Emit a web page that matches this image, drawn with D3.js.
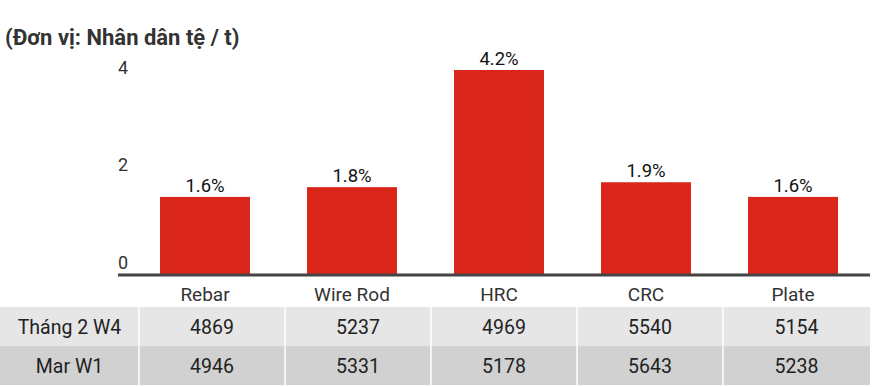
<!DOCTYPE html>
<html>
<head>
<meta charset="utf-8">
<script src="https://cdn.jsdelivr.net/npm/d3@7"></script>
<style>
  body { margin: 0; background: #fff; }
  svg { display: block; font-family: Roboto, "Noto Sans", sans-serif; }
</style>
</head>
<body>
<div id="chart"></div>
<script>
// ---- data ----
const categories = ["Rebar", "Wire Rod", "HRC", "CRC", "Plate"];
const changePct = [1.6, 1.8, 4.2, 1.9, 1.6];
const yTicks = [0, 2, 4];
const rowLabels = ["Tháng 2 W4", "Mar W1"];
const priceFebW4 = [4869, 5237, 4969, 5540, 5154];
const priceMarW1 = [4946, 5331, 5178, 5643, 5238];
const titleText = "(Đơn vị: Nhân dân tệ / t)";

document.addEventListener("DOMContentLoaded", function() {
  "use strict";

  const w = 874;
  const h = 387;
  const baseY = 275;
  const barColor = "#d9251a";

  const svg = d3.select("#chart").append("svg")
    .attr("width", w)
    .attr("height", h);

  // title
  svg.append("text")
    .attr("x", 5)
    .attr("y", 45)
    .attr("font-size", 22)
    .attr("font-weight", "bold")
    .attr("fill", "#333")
    .text(titleText);

  // scales
  const xScale = d3.scaleBand()
    .domain(categories)
    .range([131.5, 866.5])
    .paddingInner(0.388)
    .paddingOuter(0.194);

  const yScale = d3.scaleLinear()
    .domain([0, 4.2])
    .range([baseY, 70]);

  // y tick labels (drawn above the tick value)
  svg.append("g").selectAll("text")
    .data(yTicks).enter()
    .append("text")
    .attr("x", 123)
    .attr("y", d => yScale(d) - 6)
    .attr("text-anchor", "middle")
    .attr("font-size", 18)
    .attr("fill", "#333")
    .text(d => d);

  // bars
  svg.append("g").selectAll("rect")
    .data(categories).enter()
    .append("rect")
    .attr("x", d => xScale(d))
    .attr("y", (d, i) => yScale(changePct[i]))
    .attr("width", xScale.bandwidth())
    .attr("height", (d, i) => baseY - yScale(changePct[i]))
    .attr("fill", barColor);

  // value labels
  svg.append("g").selectAll("text")
    .data(categories).enter()
    .append("text")
    .attr("x", d => xScale(d) + xScale.bandwidth() / 2)
    .attr("y", (d, i) => yScale(changePct[i]) - 5)
    .attr("text-anchor", "middle")
    .attr("font-size", 18.5)
    .attr("fill", "#111")
    .text((d, i) => changePct[i].toFixed(1) + "%");

  // axis line
  svg.append("line")
    .attr("x1", 118)
    .attr("x2", 870)
    .attr("y1", baseY)
    .attr("y2", baseY)
    .attr("stroke", "#444")
    .attr("stroke-width", 3);

  // category labels
  svg.append("g").selectAll("text")
    .data(categories).enter()
    .append("text")
    .attr("x", d => xScale(d) + xScale.bandwidth() / 2)
    .attr("y", 301)
    .attr("text-anchor", "middle")
    .attr("font-size", 19)
    .attr("fill", "#333")
    .text(d => d);

  // ---- table under the chart ----
  const colX = [0, 139, 285, 431, 577, 723, 870];
  const rowY = [307, 346, 385];
  const rowFill = ["#e6e6e6", "#d1d1d1"];
  const rows = [priceFebW4, priceMarW1];

  const table = svg.append("g");
  rows.forEach(function(vals, r) {
    const cells = [rowLabels[r]].concat(vals);
    table.append("g").selectAll("rect")
      .data(cells).enter()
      .append("rect")
      .attr("x", (d, i) => colX[i])
      .attr("y", rowY[r])
      .attr("width", (d, i) => colX[i + 1] - colX[i])
      .attr("height", rowY[r + 1] - rowY[r])
      .attr("fill", rowFill[r]);

    table.append("g").selectAll("text")
      .data(cells).enter()
      .append("text")
      .attr("x", (d, i) => (colX[i] + colX[i + 1]) / 2)
      .attr("y", (rowY[r] + rowY[r + 1]) / 2 + 7)
      .attr("text-anchor", "middle")
      .attr("font-size", 19.5)
      .attr("fill", "#222")
      .text(d => d);
  });

  // white column separators
  table.selectAll("line.sep")
    .data(colX.slice(1, -1)).enter()
    .append("line")
    .attr("class", "sep")
    .attr("x1", d => d)
    .attr("x2", d => d)
    .attr("y1", rowY[0])
    .attr("y2", rowY[2])
    .attr("stroke", "#fff")
    .attr("stroke-width", 1.5);
});
</script>
</body>
</html>
